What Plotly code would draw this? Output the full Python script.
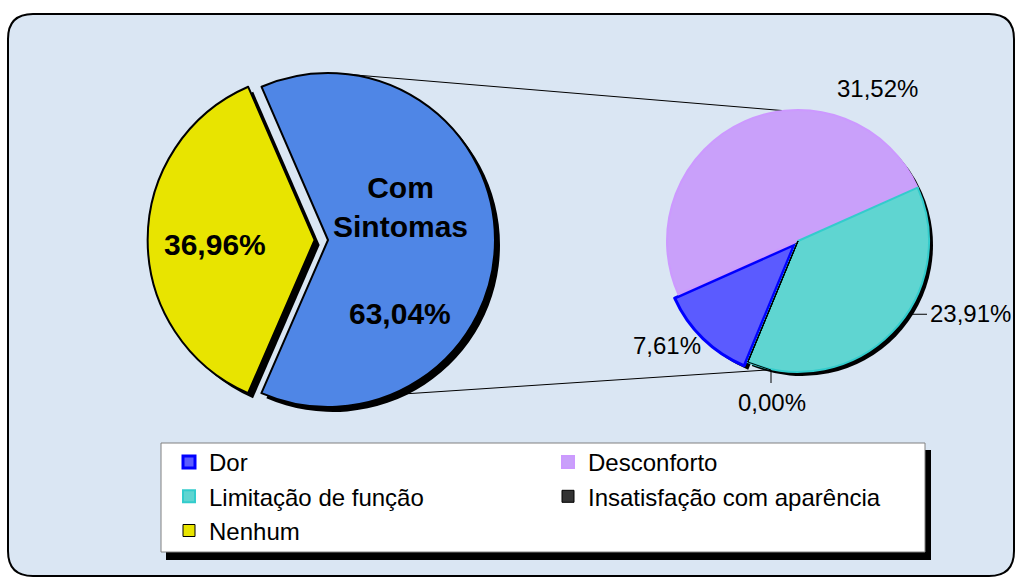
import math
import plotly.graph_objects as go

# ---------------- data ----------------
main_labels = ["Nenhum", "Com Sintomas"]
main_values = [36.96, 63.04]

sub_labels = ["Dor", "Desconforto", "Limitação de função",
              "Insatisfação com aparência", "Nenhum"]
sub_values = [7.61, 31.52, 23.91, 0.00, 0.00]
sub_has_label = [True, True, True, True, False]

# ---------------- style / geometry (pixels) ----------------
W, H = 1017, 577
FONT = "Liberation Sans, Arial, sans-serif"

L_CX, L_CY, L_R, L_PULL, L_ROT = 328, 240, 167, 0.08, 203.5
R_CX, R_CY, R_R, R_PULL, R_ROT = 798, 241, 131, 0.04, 202.5
SHADOW = 5

main_colors = ["#e8e400", "#4f86e6"]
sub_colors = ["#5b5bff", "#c9a0fa", "#5fd5d1", "#333333", "#e8e400"]
sub_line_colors = ["#0000ff", "#cc99ff", "#33cccc", "#000000", "#000000"]
sub_line_widths = [3, 2, 2, 1, 1]

# label positions (pixel centres)
main_value_pos = [(215, 245), (400, 313)]
main_name_pos = [None, (400, 207)]
sub_label_pos = [(667, 345), (877, 88), (970, 313), (772, 402), None]


def px(x):
    return x / W


def py(y):
    return 1 - y / H


def domain(cx, cy, r, pull, dx=0, dy=0):
    half = r * (1 + pull)
    return dict(x=[px(cx - half + dx), px(cx + half + dx)],
                y=[py(cy + half + dy), py(cy - half + dy)])


def fmt(v):
    return f"{v:.2f}".replace(".", ",") + "%"


def on_circle(cx, cy, r, ang_deg):
    a = math.radians(ang_deg)
    return cx + r * math.cos(a), cy - r * math.sin(a)


fig = go.Figure()

# shadows
fig.add_trace(go.Pie(labels=main_labels, values=main_values, sort=False,
                     direction="clockwise", rotation=L_ROT,
                     pull=[L_PULL, 0], textinfo="none", hoverinfo="skip",
                     showlegend=False,
                     marker=dict(colors=["#000000"] * len(main_values),
                                 line=dict(width=0)),
                     domain=domain(L_CX, L_CY, L_R, L_PULL, SHADOW, SHADOW)))
fig.add_trace(go.Pie(labels=sub_labels, values=sub_values, sort=False,
                     direction="clockwise", rotation=R_ROT,
                     pull=[R_PULL, 0, 0, 0, 0], textinfo="none",
                     hoverinfo="skip", showlegend=False,
                     marker=dict(colors=["#000000"] * len(sub_values),
                                 line=dict(width=0)),
                     domain=domain(R_CX, R_CY, R_R, R_PULL, SHADOW - 1, SHADOW - 1)))

# main pie
fig.add_trace(go.Pie(labels=main_labels, values=main_values, sort=False,
                     direction="clockwise", rotation=L_ROT,
                     pull=[L_PULL, 0], textinfo="none", showlegend=False,
                     marker=dict(colors=main_colors,
                                 line=dict(color="#000000", width=2)),
                     domain=domain(L_CX, L_CY, L_R, L_PULL)))

# secondary pie (provides legend)
fig.add_trace(go.Pie(labels=sub_labels, values=sub_values, sort=False,
                     direction="clockwise", rotation=R_ROT,
                     pull=[R_PULL, 0, 0, 0, 0], textinfo="none",
                     marker=dict(colors=sub_colors,
                                 line=dict(color=sub_line_colors,
                                           width=sub_line_widths)),
                     domain=domain(R_CX, R_CY, R_R, R_PULL)))

shapes = []
# background rounded rectangle
x0, y0, x1, y1, rr = 8, 14, 1014, 576, 25
path = (f"M{px(x0 + rr)},{py(y0)} L{px(x1 - rr)},{py(y0)} "
        f"Q{px(x1)},{py(y0)} {px(x1)},{py(y0 + rr)} "
        f"L{px(x1)},{py(y1 - rr)} Q{px(x1)},{py(y1)} {px(x1 - rr)},{py(y1)} "
        f"L{px(x0 + rr)},{py(y1)} Q{px(x0)},{py(y1)} {px(x0)},{py(y1 - rr)} "
        f"L{px(x0)},{py(y0 + rr)} Q{px(x0)},{py(y0)} {px(x0 + rr)},{py(y0)} Z")
shapes.append(dict(type="path", xref="paper", yref="paper", path=path,
                   fillcolor="#dae6f3", line=dict(color="#000000", width=2),
                   layer="below"))
# legend box + shadow
shapes.append(dict(type="rect", xref="paper", yref="paper",
                   x0=px(166), x1=px(931), y0=py(560), y1=py(450),
                   fillcolor="#000000", line=dict(width=0), layer="below"))
shapes.append(dict(type="rect", xref="paper", yref="paper",
                   x0=px(161), x1=px(925), y0=py(552), y1=py(443),
                   fillcolor="#ffffff", line=dict(color="#808080", width=1),
                   layer="below"))

# connector lines between the two pies
for la, ra in [(82, 96), (-68, -101)]:
    ax, ay = on_circle(L_CX, L_CY, L_R, la)
    bx, by = on_circle(R_CX, R_CY, R_R, ra)
    shapes.append(dict(type="line", xref="paper", yref="paper",
                       x0=px(ax), y0=py(ay), x1=px(bx), y1=py(by),
                       line=dict(color="#000000", width=1), layer="below"))

# leader lines for outside labels
lx, ly = on_circle(R_CX, R_CY, R_R, -34)
shapes.append(dict(type="line", xref="paper", yref="paper",
                   x0=px(lx + 2), y0=py(ly), x1=px(927), y1=py(ly),
                   line=dict(color="#000000", width=1)))
zx, zy = on_circle(R_CX, R_CY, R_R, 90 - R_ROT)
shapes.append(dict(type="path", xref="paper", yref="paper",
                   path=f"M{px(zx)},{py(zy)} L{px(771)},{py(370)} L{px(771)},{py(383)}",
                   line=dict(color="#000000", width=1)))

annotations = []
for i, lab in enumerate(main_labels):
    vx, vy = main_value_pos[i]
    annotations.append(dict(x=px(vx), y=py(vy), xref="paper", yref="paper",
                            xanchor="center", yanchor="middle",
                            text=f"<b>{fmt(main_values[i])}</b>",
                            showarrow=False,
                            font=dict(family=FONT, size=30, color="#000000")))
    if main_name_pos[i]:
        nx, ny = main_name_pos[i]
        annotations.append(dict(x=px(nx), y=py(ny), xref="paper", yref="paper",
                                xanchor="center", yanchor="middle",
                                text="<b>" + lab.replace(" ", "<br>") + "</b>",
                                showarrow=False,
                                font=dict(family=FONT, size=30, color="#000000")))
for i, lab in enumerate(sub_labels):
    if not sub_has_label[i]:
        continue
    sx, sy = sub_label_pos[i]
    annotations.append(dict(x=px(sx), y=py(sy), xref="paper", yref="paper",
                            xanchor="center", yanchor="middle",
                            text=fmt(sub_values[i]), showarrow=False,
                            font=dict(family=FONT, size=24, color="#000000")))

fig.update_layout(
    width=W, height=H,
    margin=dict(l=0, r=0, t=0, b=0),
    paper_bgcolor="#ffffff",
    plot_bgcolor="#ffffff",
    font=dict(family=FONT, color="#000000"),
    shapes=shapes,
    annotations=annotations,
    legend=dict(orientation="h", x=px(169), y=py(440),
                xanchor="left", yanchor="top",
                entrywidth=334, entrywidthmode="pixels",
                bgcolor="rgba(0,0,0,0)", borderwidth=0,
                font=dict(family=FONT, size=24, color="#000000")),
)

fig.write_html("out.html", config={"displayModeBar": False},
               post_script="document.body.style.margin='0';")
